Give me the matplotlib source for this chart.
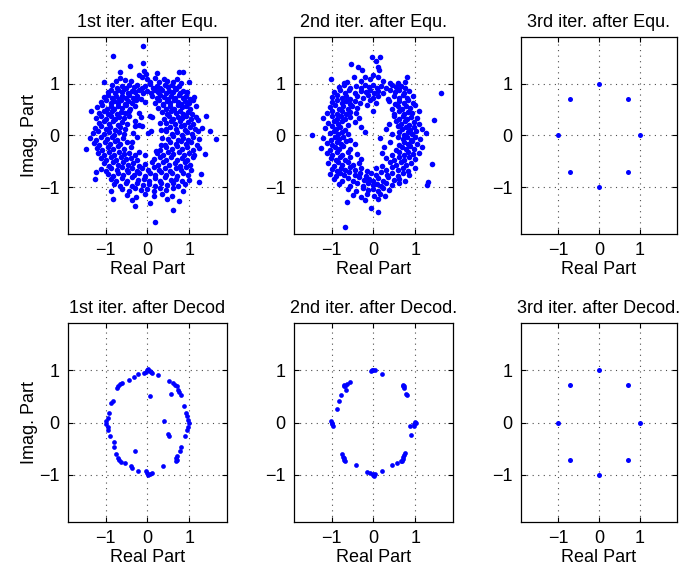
import matplotlib
matplotlib.use("Agg")
import matplotlib.pyplot as plt

plt.rcParams["font.family"] = ["Liberation Sans", "DejaVu Sans"]
plt.rcParams["font.size"] = 13

# 1st iteration after equalizer (dense cloud)
eq1_pts = [
    (-0.10, 1.73), (-0.83, 1.53), (-0.10, 1.40), (-0.41, 1.34), (-0.66, 1.23), (0.23, 1.21),
    (0.75, 1.23), (0.85, 1.23), (-0.09, 1.24), (-0.04, 1.19), (-0.20, 1.16),
    (-1.04, 1.03), (-0.76, 1.05), (-0.65, 1.10), (-0.54, 1.07), (-0.39, 1.05), (-0.13, 1.12),
    (-0.02, 1.08), (0.06, 1.04), (0.19, 1.10), (0.27, 1.03), (0.39, 1.08), (0.47, 1.05),
    (0.61, 1.04), (0.71, 1.09), (0.79, 1.02), (0.99, 1.03),
    (-0.85, 0.97), (-0.72, 0.92), (-0.60, 0.96), (-0.52, 0.91), (-0.45, 0.98), (-0.33, 0.93),
    (-0.25, 0.97), (-0.12, 0.91), (-0.05, 0.95), (0.05, 0.99), (0.14, 0.92), (0.22, 0.96),
    (0.30, 0.91), (0.41, 0.97), (0.50, 0.93), (0.58, 0.98), (0.66, 0.92), (0.75, 0.96),
    (-0.95, 0.84), (-0.88, 0.88), (-0.78, 0.82), (-0.70, 0.87), (-0.62, 0.83), (-0.55, 0.89),
    (-0.47, 0.81), (-0.38, 0.86), (-0.30, 0.84), (-0.21, 0.88), (-0.10, 0.82), (0.00, 0.86),
    (0.08, 0.81), (0.17, 0.87), (0.26, 0.83), (0.35, 0.88), (0.44, 0.82), (0.52, 0.86),
    (0.60, 0.84), (0.69, 0.89), (0.78, 0.81), (0.86, 0.85), (0.95, 0.83),
    (-1.05, 0.74), (-0.95, 0.78), (-0.85, 0.72), (-0.76, 0.77), (-0.68, 0.71), (-0.60, 0.76),
    (-0.52, 0.73), (-0.44, 0.79), (-0.35, 0.72), (-0.25, 0.76), (-0.15, 0.71), (0.12, 0.77),
    (0.22, 0.72), (0.31, 0.78), (0.40, 0.74), (0.48, 0.71), (0.57, 0.77), (0.66, 0.73),
    (0.75, 0.78), (0.84, 0.72), (0.92, 0.76), (1.01, 0.71), (1.12, 0.75),
    (-1.10, 0.64), (-0.98, 0.68), (-0.88, 0.62), (-0.80, 0.67), (-0.71, 0.63), (-0.63, 0.69),
    (-0.54, 0.61), (-0.46, 0.66), (-0.37, 0.62), (-0.27, 0.68), (-0.05, 0.64), (0.18, 0.63),
    (0.28, 0.68), (0.37, 0.61), (0.46, 0.66), (0.55, 0.62), (0.63, 0.69), (0.72, 0.64),
    (0.81, 0.61), (0.90, 0.67), (0.99, 0.63), (1.08, 0.68),
    (-1.20, 0.54), (-1.08, 0.58), (-0.97, 0.52), (-0.88, 0.57), (-0.79, 0.51), (-0.70, 0.56),
    (-0.61, 0.53), (-0.52, 0.58), (-0.42, 0.52), (-0.30, 0.56), (0.25, 0.53), (0.36, 0.58),
    (0.45, 0.51), (0.54, 0.56), (0.64, 0.52), (0.73, 0.59), (0.83, 0.54), (0.92, 0.57),
    (1.02, 0.52), (1.15, 0.56),
    (-1.34, 0.47), (-1.15, 0.44), (-1.04, 0.48), (-0.94, 0.42), (-0.84, 0.47), (-0.74, 0.41),
    (-0.64, 0.46), (-0.54, 0.43), (-0.44, 0.48), (-0.20, 0.44), (0.35, 0.46), (0.46, 0.41),
    (0.57, 0.47), (0.67, 0.43), (0.77, 0.48), (0.86, 0.42), (0.96, 0.46), (1.06, 0.41),
    (-1.22, 0.34), (-1.10, 0.38), (-0.98, 0.32), (-0.88, 0.37), (-0.77, 0.31), (-0.67, 0.36),
    (-0.56, 0.33), (-0.45, 0.38), (0.10, 0.35), (0.40, 0.32), (0.52, 0.37), (0.62, 0.31),
    (0.72, 0.36), (0.82, 0.33), (0.92, 0.38), (1.03, 0.32), (1.15, 0.36), (1.41, 0.37),
    (-1.15, 0.24), (-1.03, 0.28), (-0.92, 0.22), (-0.82, 0.27), (-0.71, 0.21), (-0.60, 0.26),
    (-0.48, 0.23), (-0.30, 0.28), (0.45, 0.24), (0.56, 0.28), (0.66, 0.22), (0.77, 0.27),
    (0.88, 0.21), (0.98, 0.26), (1.10, 0.23), (1.20, 0.29),
    (-1.25, 0.14), (-1.12, 0.18), (-1.00, 0.12), (-0.89, 0.17), (-0.78, 0.11), (-0.66, 0.16),
    (-0.53, 0.13), (-0.12, 0.18), (0.44, 0.12), (0.55, 0.17), (0.67, 0.13), (0.79, 0.18),
    (0.90, 0.11), (1.02, 0.16), (1.14, 0.12), (1.31, 0.15),
    (-1.30, 0.04), (-1.18, 0.08), (-1.05, 0.02), (-0.92, 0.07), (-0.80, 0.01), (-0.67, 0.06),
    (-0.55, 0.03), (0.02, 0.05), (0.45, 0.08), (0.58, 0.02), (0.70, 0.06), (0.82, 0.01),
    (0.95, 0.07), (1.07, 0.03), (1.20, 0.08), (1.49, 0.08),
    (-1.38, -0.04), (-1.22, -0.08), (-1.10, -0.02), (-0.97, -0.07), (-0.85, -0.03), (-0.72, -0.09),
    (-0.58, -0.05), (-0.25, -0.02), (0.48, -0.06), (0.60, -0.01), (0.73, -0.08), (0.85, -0.04),
    (0.98, -0.09), (1.10, -0.03), (1.22, -0.07), (1.65, -0.06),
    (-1.28, -0.14), (-1.15, -0.18), (-1.02, -0.12), (-0.90, -0.17), (-0.78, -0.11), (-0.65, -0.16),
    (-0.50, -0.13), (0.42, -0.18), (0.55, -0.12), (0.68, -0.16), (0.80, -0.11), (0.92, -0.17),
    (1.05, -0.13), (1.18, -0.19),
    (-1.47, -0.27), (-1.20, -0.24), (-1.08, -0.28), (-0.95, -0.22), (-0.83, -0.27), (-0.70, -0.21),
    (-0.57, -0.26), (-0.40, -0.23), (0.30, -0.28), (0.45, -0.22), (0.58, -0.27), (0.70, -0.21),
    (0.82, -0.26), (0.95, -0.23), (1.08, -0.28), (1.22, -0.24),
    (-1.18, -0.34), (-1.05, -0.38), (-0.93, -0.32), (-0.81, -0.37), (-0.69, -0.31), (-0.57, -0.36),
    (-0.44, -0.33), (-0.30, -0.38), (0.22, -0.34), (0.36, -0.37), (0.50, -0.31), (0.62, -0.36),
    (0.75, -0.32), (0.88, -0.38), (1.00, -0.33), (1.12, -0.37), (1.37, -0.36),
    (-1.12, -0.44), (-1.00, -0.48), (-0.88, -0.42), (-0.76, -0.47), (-0.64, -0.41), (-0.52, -0.46),
    (-0.40, -0.43), (-0.25, -0.48), (0.15, -0.45), (0.30, -0.41), (0.44, -0.47), (0.57, -0.42),
    (0.70, -0.48), (0.82, -0.43), (0.95, -0.47), (1.08, -0.42),
    (-1.05, -0.54), (-0.93, -0.58), (-0.82, -0.52), (-0.70, -0.57), (-0.58, -0.51), (-0.46, -0.56),
    (-0.34, -0.53), (-0.20, -0.58), (-0.05, -0.55), (0.10, -0.52), (0.24, -0.57), (0.38, -0.51),
    (0.52, -0.56), (0.65, -0.53), (0.78, -0.58), (0.90, -0.52), (1.02, -0.56),
    (-1.10, -0.64), (-0.98, -0.68), (-0.86, -0.62), (-0.74, -0.67), (-0.62, -0.61), (-0.50, -0.66),
    (-0.38, -0.63), (-0.25, -0.68), (-0.12, -0.62), (0.02, -0.67), (0.15, -0.61), (0.28, -0.66),
    (0.42, -0.63), (0.55, -0.68), (0.68, -0.62), (0.80, -0.67), (0.93, -0.61), (1.05, -0.66),
    (-1.24, -0.71), (-0.95, -0.74), (-0.82, -0.78), (-0.70, -0.72), (-0.58, -0.77), (-0.46, -0.71),
    (-0.33, -0.76), (-0.20, -0.73), (-0.07, -0.78), (0.06, -0.72), (0.19, -0.77), (0.32, -0.71),
    (0.45, -0.76), (0.58, -0.73), (0.71, -0.78), (0.84, -0.72), (0.97, -0.76), (1.27, -0.74),
    (-1.26, -0.84), (-0.88, -0.84), (-0.75, -0.88), (-0.62, -0.82), (-0.49, -0.87), (-0.36, -0.81),
    (-0.22, -0.86), (-0.09, -0.83), (0.04, -0.88), (0.17, -0.82), (0.30, -0.87), (0.43, -0.81),
    (0.56, -0.86), (0.69, -0.83), (0.82, -0.88), (1.00, -0.85), (1.23, -0.89),
    (-0.80, -0.94), (-0.66, -0.98), (-0.52, -0.92), (-0.38, -0.97), (-0.24, -0.91), (-0.10, -0.96),
    (0.04, -0.93), (0.18, -0.98), (0.32, -0.92), (0.46, -0.96), (0.60, -0.91), (0.74, -0.97),
    (0.90, -0.93),
    (-0.88, -1.07), (-0.60, -1.04), (-0.45, -1.08), (-0.30, -1.02), (-0.15, -1.06), (0.00, -1.03),
    (0.15, -1.08), (0.30, -1.01), (0.45, -1.05), (0.62, -1.02), (0.85, -1.08),
    (-0.50, -1.14), (-0.28, -1.18), (-0.05, -1.12), (0.15, -1.16), (0.35, -1.13), (0.58, -1.17),
    (-0.82, -1.22), (-0.38, -1.24), (0.06, -1.30), (0.47, -1.22), (0.75, -1.26),
    (-0.30, -1.37), (0.61, -1.43), (0.18, -1.66),
    # points around the small central hole
    (-0.35, 0.05), (-0.38, -0.12), (0.32, 0.10), (0.35, -0.05), (0.30, 0.25), (-0.30, 0.18),
    (-0.15, 0.35), (0.05, 0.38), (0.20, -0.30), (-0.05, -0.38), (-0.20, -0.32), (0.33, -0.18),
    (-0.21, 0.20), (0.09, 0.08),
]

# 2nd iteration after equalizer (ring-shaped cloud)
eq2_pts = [
    (-0.04, 1.52), (0.16, 1.51), (-0.54, 1.38), (-0.36, 1.33), (-0.28, 1.27), (0.06, 1.43),
    (0.10, 1.33), (0.14, 1.27), (-1.01, 1.08), (-0.70, 1.02), (-0.64, 1.04), (-0.46, 1.13),
    (-0.30, 1.06), (-0.20, 1.13), (-0.08, 1.08), (0.00, 1.16), (0.10, 1.12), (0.24, 1.06),
    (0.40, 1.01), (0.58, 1.02), (0.81, 1.13), (0.76, 1.04),
    (-0.82, 0.93), (-0.70, 0.97), (-0.55, 0.92), (-0.42, 0.96), (-0.30, 0.91), (-0.20, 0.98),
    (-0.10, 0.93), (0.00, 0.97), (0.08, 0.91), (0.17, 0.95), (0.30, 0.92), (0.45, 0.98),
    (0.55, 0.93), (0.65, 0.96), (0.76, 0.91),
    (-0.95, 0.84), (-0.80, 0.88), (-0.68, 0.82), (-0.58, 0.87), (-0.45, 0.81), (-0.30, 0.86),
    (-0.18, 0.83), (-0.08, 0.88), (0.02, 0.81), (0.12, 0.86), (0.22, 0.82), (0.40, 0.88),
    (0.52, 0.83), (0.62, 0.87), (0.72, 0.81), (0.84, 0.86), (1.62, 0.82),
    (-1.00, 0.74), (-0.88, 0.78), (-0.75, 0.72), (-0.65, 0.77), (-0.55, 0.71), (-0.40, 0.76),
    (-0.25, 0.73), (-0.12, 0.78), (0.00, 0.72), (0.10, 0.76), (0.35, 0.71), (0.50, 0.77),
    (0.60, 0.73), (0.70, 0.78), (0.80, 0.72), (0.95, 0.76),
    (-0.98, 0.64), (-0.86, 0.68), (-0.76, 0.62), (-0.66, 0.67), (-0.56, 0.61), (-0.44, 0.66),
    (-0.32, 0.63), (-0.08, 0.68), (0.05, 0.62), (0.38, 0.66), (0.52, 0.61), (0.62, 0.67),
    (0.72, 0.63), (0.82, 0.68), (0.95, 0.62),
    (-1.05, 0.54), (-0.92, 0.58), (-0.82, 0.52), (-0.72, 0.57), (-0.62, 0.51), (-0.52, 0.56),
    (-0.40, 0.53), (-0.15, 0.58), (0.45, 0.52), (0.58, 0.57), (0.68, 0.51), (0.78, 0.56),
    (0.88, 0.53), (1.00, 0.58),
    (-1.12, 0.44), (-0.98, 0.48), (-0.86, 0.42), (-0.76, 0.47), (-0.66, 0.41), (-0.56, 0.46),
    (-0.42, 0.43), (0.00, 0.48), (0.50, 0.42), (0.62, 0.47), (0.72, 0.41), (0.82, 0.46),
    (0.92, 0.43), (1.08, 0.48),
    (-1.20, 0.34), (-1.00, 0.38), (-0.88, 0.32), (-0.78, 0.37), (-0.68, 0.31), (-0.55, 0.36),
    (-0.35, 0.33), (0.48, 0.38), (0.60, 0.32), (0.70, 0.37), (0.80, 0.31), (0.90, 0.36),
    (1.05, 0.33), (1.45, 0.30),
    (-1.08, 0.24), (-0.95, 0.28), (-0.85, 0.22), (-0.75, 0.27), (-0.62, 0.21), (-0.45, 0.26),
    (0.38, 0.23), (0.55, 0.28), (0.66, 0.22), (0.76, 0.27), (0.86, 0.21), (0.96, 0.26),
    (1.10, 0.23),
    (-1.15, 0.14), (-1.00, 0.18), (-0.90, 0.12), (-0.80, 0.17), (-0.68, 0.11), (-0.30, 0.16),
    (0.30, 0.13), (0.58, 0.18), (0.68, 0.12), (0.78, 0.17), (0.88, 0.11), (0.98, 0.16),
    (1.15, 0.13),
    (-1.46, 0.01), (-1.05, 0.04), (-0.95, 0.08), (-0.85, 0.02), (-0.75, 0.07), (-0.60, 0.03),
    (-0.20, 0.06), (0.45, 0.02), (0.62, 0.07), (0.72, 0.01), (0.82, 0.06), (0.92, 0.03),
    (1.02, 0.08), (1.25, 0.04),
    (-1.20, -0.04), (-1.02, -0.08), (-0.92, -0.02), (-0.82, -0.07), (-0.72, -0.03), (-0.55, -0.08),
    (0.15, -0.05), (0.58, -0.02), (0.70, -0.07), (0.80, -0.03), (0.90, -0.08), (1.00, -0.02),
    (1.12, -0.06),
    (-1.10, -0.14), (-0.98, -0.18), (-0.88, -0.12), (-0.78, -0.17), (-0.66, -0.11), (-0.45, -0.16),
    (0.40, -0.13), (0.60, -0.18), (0.72, -0.12), (0.82, -0.17), (0.92, -0.11), (1.05, -0.16),
    (-1.25, -0.24), (-1.05, -0.28), (-0.93, -0.22), (-0.83, -0.27), (-0.72, -0.21), (-0.55, -0.26),
    (0.25, -0.23), (0.55, -0.28), (0.68, -0.22), (0.78, -0.27), (0.88, -0.21), (0.98, -0.26),
    (1.15, -0.23),
    (-1.12, -0.34), (-0.98, -0.38), (-0.86, -0.32), (-0.75, -0.37), (-0.62, -0.31), (-0.40, -0.36),
    (0.20, -0.33), (0.45, -0.38), (0.60, -0.32), (0.72, -0.37), (0.82, -0.31), (0.95, -0.36),
    (1.08, -0.33),
    (-1.02, -0.44), (-0.90, -0.48), (-0.80, -0.42), (-0.68, -0.47), (-0.55, -0.41), (-0.30, -0.46),
    (0.30, -0.43), (0.50, -0.48), (0.62, -0.42), (0.74, -0.47), (0.86, -0.41), (1.00, -0.46),
    (-1.08, -0.54), (-0.95, -0.58), (-0.84, -0.52), (-0.74, -0.57), (-0.62, -0.51), (-0.50, -0.56),
    (-0.35, -0.53), (0.20, -0.58), (0.40, -0.52), (0.55, -0.57), (0.66, -0.51), (0.78, -0.56),
    (0.90, -0.53), (1.39, -0.55),
    (-1.00, -0.64), (-0.88, -0.68), (-0.78, -0.62), (-0.68, -0.67), (-0.56, -0.61), (-0.44, -0.66),
    (-0.30, -0.63), (-0.15, -0.68), (0.05, -0.62), (0.30, -0.67), (0.45, -0.61), (0.58, -0.66),
    (0.70, -0.63), (0.82, -0.68), (1.00, -0.62),
    (-1.05, -0.74), (-0.90, -0.78), (-0.80, -0.72), (-0.70, -0.77), (-0.58, -0.71), (-0.45, -0.76),
    (-0.32, -0.73), (-0.18, -0.78), (-0.05, -0.72), (0.05, -0.77), (0.18, -0.71), (0.32, -0.76),
    (0.45, -0.73), (0.58, -0.78), (0.70, -0.72), (0.85, -0.76),
    (-0.95, -0.84), (-0.75, -0.88), (-0.62, -0.82), (-0.48, -0.87), (-0.35, -0.81), (-0.22, -0.86),
    (-0.10, -0.83), (0.00, -0.88), (0.10, -0.82), (0.22, -0.87), (0.35, -0.81), (0.48, -0.86),
    (0.60, -0.83), (0.75, -0.88), (1.30, -0.90),
    (-0.82, -0.94), (-0.55, -0.98), (-0.40, -0.92), (-0.25, -0.97), (-0.12, -0.91), (-0.02, -0.96),
    (0.08, -0.93), (0.18, -0.98), (0.30, -0.92), (0.45, -0.96), (0.60, -0.91), (1.28, -0.95),
    (-0.62, -1.04), (-0.42, -1.08), (-0.25, -1.02), (-0.12, -1.06), (0.00, -1.03), (0.10, -1.08),
    (0.22, -1.01), (0.38, -1.05),
    (-0.50, -1.14), (-0.30, -1.18), (-0.15, -1.12), (0.02, -1.16), (0.15, -1.13), (0.28, -1.17),
    (-0.64, -1.29), (-0.20, -1.24), (0.12, -1.22),
    (-0.06, -1.39), (0.10, -1.47), (-0.69, -1.77),
]

# 1st iteration after decoder
dec1_pts = [
    (-0.02, 1.01), (0.02, 1.00), (0.05, 0.98), (0.08, 0.96), (0.12, 0.94), (-0.04, 0.96),
    (-0.08, 0.94), (0.02, 1.03), (0.24, 0.90),
    (-0.22, 0.93), (-0.32, 0.87), (-0.44, 0.82), (-0.61, 0.75), (-0.65, 0.73), (-0.70, 0.70),
    (-0.73, 0.66), (-0.83, 0.42), (-0.86, 0.38),
    (-0.91, 0.19), (-0.95, 0.08), (-0.99, 0.02), (-0.98, -0.03), (-0.95, -0.08), (-0.94, -0.14),
    (-0.89, -0.26), (-0.81, -0.38), (-0.79, -0.46),
    (-0.75, -0.61), (-0.71, -0.67), (-0.67, -0.72), (-0.63, -0.75), (-0.54, -0.78), (-0.40, -0.84),
    (-0.36, -0.86), (-0.22, -0.92),
    (-0.04, -0.92), (-0.02, -0.97), (0.02, -1.00), (0.06, -0.98), (0.12, -0.96),
    (-0.30, -0.54), (0.06, 0.51), (0.40, 0.02), (0.49, -0.22), (0.52, -0.26), (0.38, -0.84),
    (0.52, 0.79), (0.60, 0.75), (0.65, 0.72), (0.70, 0.69), (0.73, 0.63), (0.75, 0.58),
    (0.57, 0.55), (0.79, 0.53),
    (0.87, 0.32), (0.91, 0.18), (0.94, 0.12), (0.97, 0.05), (0.99, -0.01), (0.97, -0.08),
    (0.94, -0.14), (0.90, -0.25),
    (0.81, -0.47), (0.78, -0.54), (0.70, -0.64), (0.67, -0.68), (0.71, -0.72), (0.68, -0.73),
]

# 2nd iteration after decoder
dec2_pts = [
    (-0.04, 1.00), (0.00, 1.01), (0.04, 1.00), (-0.06, 0.98), (0.20, 0.93),
    (-0.70, 0.72), (-0.67, 0.70), (-0.71, 0.69), (-0.63, 0.74), (-0.57, 0.77), (-0.66, 0.63),
    (-0.77, 0.52), (-0.82, 0.42), (-0.88, 0.25),
    (-1.02, 0.02), (-0.99, -0.03), (-0.97, -0.06), (-1.00, 0.00),
    (-0.75, -0.61), (-0.73, -0.65), (-0.71, -0.68), (-0.70, -0.72), (-0.69, -0.73),
    (-0.42, -0.82), (-0.16, -0.94), (-0.08, -0.97),
    (-0.02, -1.00), (0.02, -1.02), (0.04, -0.99), (0.00, -0.98), (0.21, -0.93),
    (0.44, -0.82), (0.57, -0.77), (0.67, -0.73), (0.70, -0.70), (0.71, -0.66), (0.74, -0.62),
    (0.75, -0.59), (0.68, -0.74),
    (0.90, -0.24), (0.87, -0.06), (0.98, -0.06), (1.00, 0.01), (1.02, -0.01), (0.98, -0.03),
    (0.71, 0.72), (0.73, 0.69), (0.74, 0.66), (0.70, 0.70), (0.78, 0.55), (0.79, 0.52),
]

# 3rd iteration: points sit on the 8-PSK constellation
psk_re = [1.0, 0.707, 0.0, -0.707, -1.0, -0.707, 0.0, 0.707]
psk_im = [0.0, 0.707, 1.0, 0.707, 0.0, -0.707, -1.0, -0.707]

titles = [
    "1st iter. after Equ.", "2nd iter. after Equ.", "3rd iter. after Equ.",
    "1st iter. after Decod", "2nd iter. after Decod.", "3rd iter. after Decod.",
]


def split(pts):
    return [p[0] for p in pts], [p[1] for p in pts]


panels = [
    split(eq1_pts), split(eq2_pts), (psk_re, psk_im),
    split(dec1_pts), split(dec2_pts), (psk_re, psk_im),
]
dot_sizes = [4.0, 4.0, 3.6, 3.4, 3.4, 3.6]

fig = plt.figure(figsize=(6.93, 5.77), dpi=100)

lefts = [0.0981, 0.4242, 0.7518]
widths = [0.2294, 0.2294, 0.2251]
bottoms = [0.5945, 0.0953]
heights = [0.3414, 0.3449]

for k, (xs, ys) in enumerate(panels):
    row, col = divmod(k, 3)
    ax = fig.add_axes([lefts[col], bottoms[row], widths[col], heights[row]])
    ax.plot(xs, ys, linestyle="none", marker="o", markersize=dot_sizes[k],
            markeredgewidth=0, color=(0, 0, 1))
    ax.set_xlim(-1.9, 1.9)
    ax.set_ylim(-1.9, 1.9)
    ax.set_xticks([-1, 0, 1])
    ax.set_yticks([-1, 0, 1])
    ax.grid(True, color="0.3", linestyle=(0, (1, 4)), linewidth=0.8)
    ax.tick_params(direction="in", top=True, right=True, length=3.5,
                   width=0.8, pad=6, labelsize=13)
    for s in ax.spines.values():
        s.set_linewidth(0.9)
    ax.set_title(titles[k], fontsize=13, pad=7)
    ax.set_xlabel("Real Part", fontsize=13, labelpad=1)
    if col == 0:
        ax.set_ylabel("Imag. Part", fontsize=13, labelpad=1)

fig.savefig("out.png", dpi=100)
